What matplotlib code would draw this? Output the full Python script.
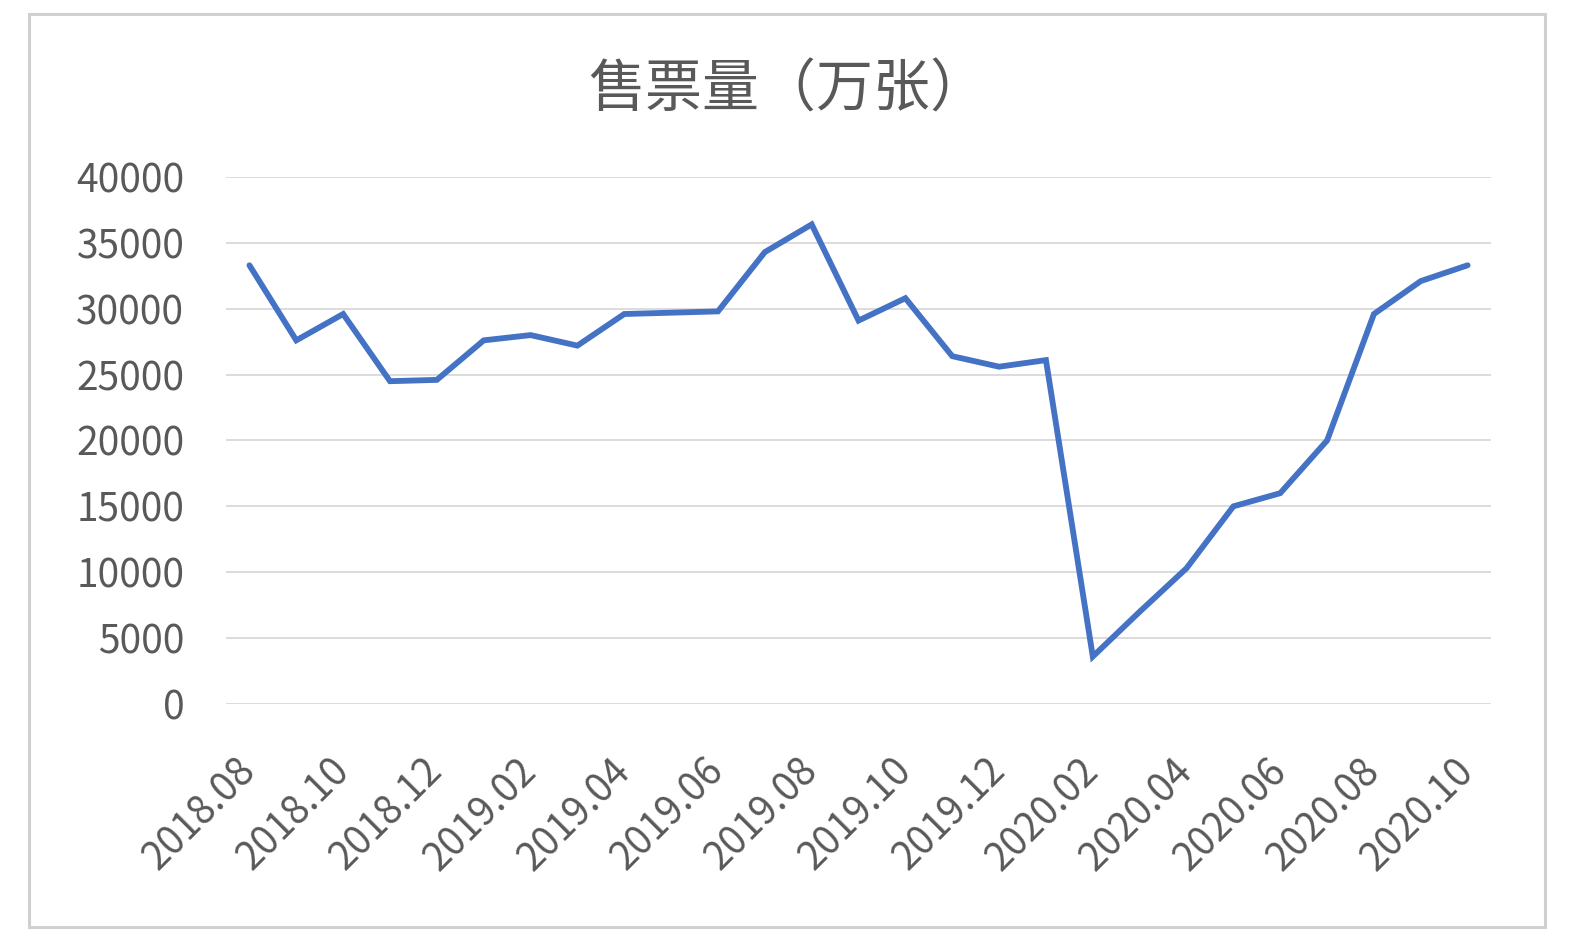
import numpy as np
import matplotlib
matplotlib.use('Agg')
import matplotlib.pyplot as plt
from matplotlib.patches import Rectangle
from matplotlib.transforms import ScaledTranslation

plt.rcParams['font.family'] = ['Noto Sans CJK SC', 'DejaVu Sans']

months = ['2018.08', '2018.09', '2018.10', '2018.11', '2018.12',
          '2019.01', '2019.02', '2019.03', '2019.04', '2019.05', '2019.06',
          '2019.07', '2019.08', '2019.09', '2019.10', '2019.11', '2019.12',
          '2020.01', '2020.02', '2020.03', '2020.04', '2020.05', '2020.06',
          '2020.07', '2020.08', '2020.09', '2020.10']
tickets = [33300, 27600, 29600, 24500, 24600,
           27600, 28000, 27200, 29600, 29700, 29800,
           34300, 36400, 29100, 30800, 26400, 25600,
           26100, 3600, 7000, 10300, 15000, 16000,
           20000, 29600, 32100, 33300]
yticks = [0, 5000, 10000, 15000, 20000, 25000, 30000, 35000, 40000]
title = '售票量（万张）'

txt_color = '#595959'

fig = plt.figure(figsize=(15.75, 9.42), dpi=100)
ax = fig.add_axes([0.1435, 0.2527, 0.8032, 0.5594])

x = np.arange(len(months))
ax.plot(x, tickets, color='#4472C4', lw=4.2, solid_joinstyle='miter', solid_capstyle='round', zorder=3)

ax.set_xlim(-0.5, len(months) - 0.5)
ax.set_ylim(0, 40000)
ax.set_yticks(yticks)
ax.set_yticklabels([str(v) for v in yticks], fontsize=28, color=txt_color)
ax.set_xticks(x[::2])
ax.set_xticklabels(months[::2], fontsize=28, color=txt_color, rotation=45,
                   ha='right', va='center', rotation_mode='anchor')
shift = ScaledTranslation(6 / 100, 0, fig.dpi_scale_trans)
for lab in ax.get_xticklabels():
    lab.set_transform(lab.get_transform() + shift)
ax.tick_params(axis='both', length=0)
ax.tick_params(axis='y', pad=30)
ax.tick_params(axis='x', pad=44)
ax.grid(axis='y', color='#d9d9d9', lw=1.3)
ax.set_axisbelow(True)
for s in ax.spines.values():
    s.set_visible(False)

fig.text(0.5, 1 - 90 / 942, title, fontsize=41, color=txt_color, ha='center', va='center')

# outer frame of the chart
fig.patches.append(Rectangle((29 / 1575, 1 - 927 / 942), 1516 / 1575, 913 / 942,
                             transform=fig.transFigure, fill=False,
                             edgecolor='#d0d0d0', lw=2.2))

fig.savefig('out.png', dpi=100, facecolor='white')
